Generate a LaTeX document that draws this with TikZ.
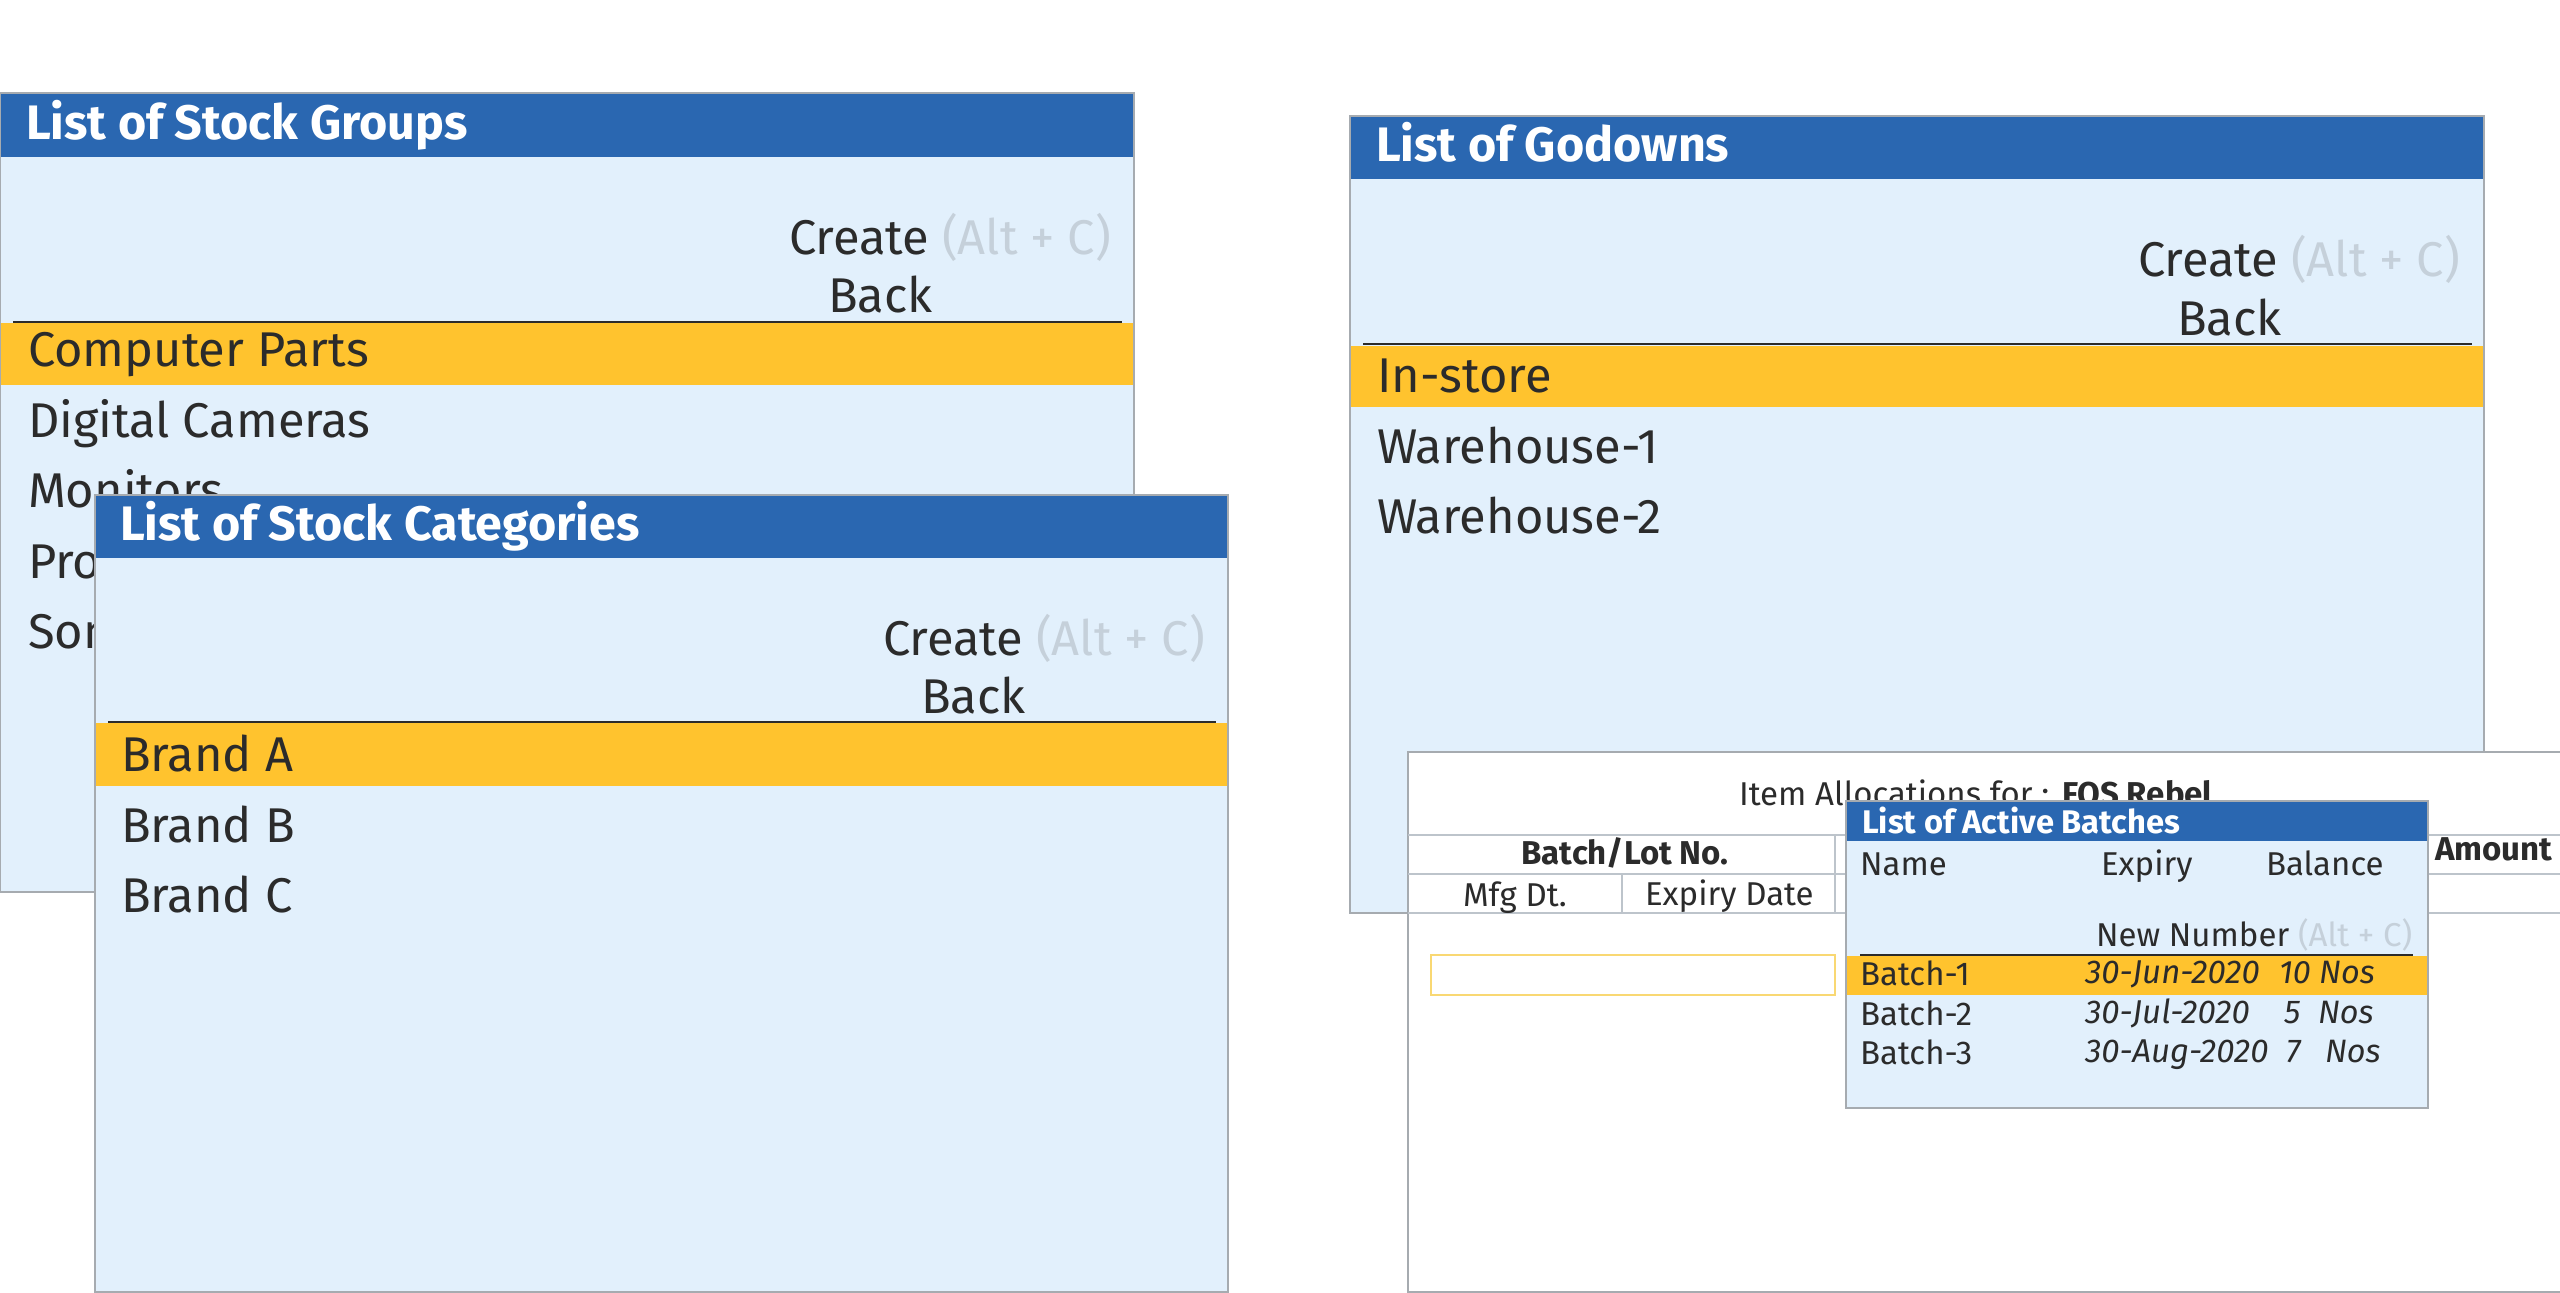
\documentclass[tikz,border=0pt]{standalone}
\usepackage{fontspec}
\setmainfont{Fira Sans}
\definecolor{hdr}{HTML}{2A67B1}
\definecolor{pane}{HTML}{E2F0FC}
\definecolor{sel}{HTML}{FFC32E}
\definecolor{ink}{HTML}{2B2B2B}
\definecolor{edge}{HTML}{A6ABB0}
\definecolor{hint}{HTML}{C5D0DA}
\definecolor{rule}{HTML}{BDC4CB}
\definecolor{inbox}{HTML}{F9D873}
\newcommand{\fs}[1]{\fontsize{#1}{#1}\selectfont}
\tikzset{
 x=1pt,y=-1pt,
 lbl/.style={anchor=base west,inner sep=0pt,outer sep=0pt,text=ink},
 lblc/.style={anchor=base,inner sep=0pt,outer sep=0pt,text=ink},
 big/.style={lbl,font=\fs{48.8}},
 bighead/.style={lbl,text=white,font=\fs{48.4}\bfseries},
 small/.style={lbl,font=\fs{33}},
 smallc/.style={lblc,font=\fs{33}},
 smallb/.style={lbl,font=\fs{33}\bfseries},
 panefill/.style={fill=pane,draw=edge,line width=2pt},
 whitefill/.style={fill=white,draw=edge,line width=2.5pt},
}
\begin{document}
\begin{tikzpicture}
\useasboundingbox (0,0) rectangle (2560,1293);
% Stock Groups
\fill[white] (0,0) rectangle (2560,1293);
\draw[panefill] (0,93) rectangle (1134,892);
\fill[hdr] (1,94) rectangle (1133,157);
\node[bighead] (g0) at (26,139) {List of Stock Groups};
\node[big] (g1) at (789,254) {Create \textcolor{hint}{(Alt + C)}};
\node[big] (g2) at (828,312) {Back};
\fill[sel] (1,323) rectangle (1133,385);
\draw[ink,line width=1.6pt] (13,322) -- (1122,322);
\node[big] (g3) at (28,366) {Computer Parts};
\node[big] (g4) at (28,437) {Digital Cameras};
\node[big] (g5) at (28,507) {Monitors};
\node[big] (g6) at (28,578) {Pro};
\node[big] (g7) at (28,648) {Son};
% Stock Categories
\draw[panefill] (95,495) rectangle (1228,1292);
\fill[hdr] (96,496) rectangle (1227,558);
\node[bighead] (c0) at (120,540) {List of Stock Categories};
\node[big] (c1) at (883,655) {Create \textcolor{hint}{(Alt + C)}};
\node[big] (c2) at (921,713) {Back};
\fill[sel] (96,723) rectangle (1227,786);
\draw[ink,line width=1.6pt] (108,722) -- (1216,722);
\node[big] (c3) at (121,771) {Brand A};
\node[big] (c4) at (121,842) {Brand B};
\node[big] (c5) at (121,912) {Brand C};
% Godowns
\draw[panefill] (1350,116) rectangle (2484,913);
\fill[hdr] (1351,117) rectangle (2483,179);
\node[bighead] (d0) at (1376,161) {List of Godowns};
\node[big] (d1) at (2138,276) {Create \textcolor{hint}{(Alt + C)}};
\node[big] (d2) at (2177,335) {Back};
\fill[sel] (1351,346) rectangle (2483,407);
\draw[ink,line width=1.6pt] (1363,344) -- (2472,344);
\node[big] (d3) at (1377,392) {In-store};
\node[big] (d4) at (1377,463) {Warehouse-1};
\node[big] (d5) at (1377,533) {Warehouse-2};
% Item Allocations
\draw[whitefill] (1408,752) rectangle (2562,1292);
\draw[rule,line width=2.5pt] (1408,835) -- (2560,835);
\draw[rule,line width=2.5pt] (1408,874) -- (2560,874);
\draw[rule,line width=2.5pt] (1408,913) -- (2560,913);
\draw[rule,line width=2pt] (1622,874) -- (1622,913);
\draw[rule,line width=2pt] (1835,835) -- (1835,913);
\node[small] (a0) at (1739,805) {Item Allocations for :};
\node[smallb] (a1) at (2062,805) {FOS Rebel};
\node[smallc,font=\fs{33}\bfseries] (a2) at (1625,864) {Batch/Lot No.};
\node[smallb] (a3) at (2435,860) {Amount};
\node[small] (a4) at (1463,906) {Mfg Dt.};
\node[small] (a5) at (1645,905) {Expiry Date};
\draw[inbox,line width=2pt] (1431,955) rectangle (1835,995);
% Active Batches
\draw[panefill] (1846,801) rectangle (2428,1108);
\fill[hdr] (1847,802) rectangle (2427,841);
\node[smallb,text=white,font=\fs{32.7}\bfseries] (b0) at (1862,833) {List of Active Batches};
\node[small] (b1) at (1860,875) {Name};
\node[small] (b2) at (2101,875) {Expiry};
\node[small] (b3) at (2266,875) {Balance};
\node[small] (b4) at (2096,946) {New Number \textcolor{hint}{(Alt + C)}};
\fill[sel] (1847,956) rectangle (2427,995);
\draw[ink,line width=1.6pt] (1860,955) -- (2413,955);
\node[small] (b5) at (1860,985) {Batch-1};
\node[small,font=\fs{33}\itshape] (b6) at (2085,983) {30-Jun-2020};
\node[small,font=\fs{32.4}\itshape] (b7) at (2279,983) {10 Nos};
\node[small] (b8) at (1860,1025) {Batch-2};
\node[small,font=\fs{33}\itshape] (b9) at (2085,1023) {30-Jul-2020};
\node[small,font=\fs{33}\itshape] (b10) at (2284,1023) {5};
\node[small,font=\fs{32.4}\itshape] (b11) at (2318,1023) {Nos};
\node[small] (b12) at (1860,1064) {Batch-3};
\node[small,font=\fs{33}\itshape] (b13) at (2085,1062) {30-Aug-2020};
\node[small,font=\fs{33}\itshape] (b14) at (2286,1062) {7};
\node[small,font=\fs{32.4}\itshape] (b15) at (2325,1062) {Nos};
\end{tikzpicture}
\end{document}
